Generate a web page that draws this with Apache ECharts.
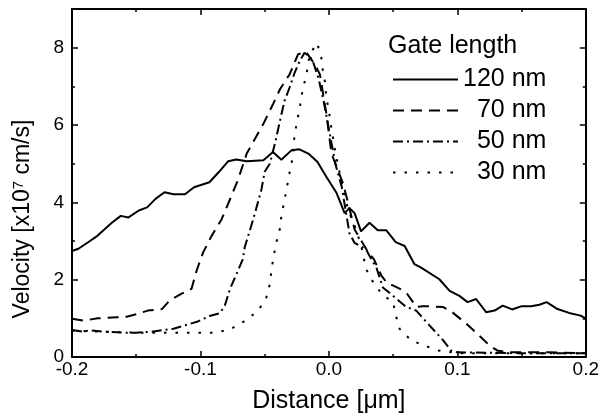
<!DOCTYPE html>
<html>
<head>
<meta charset="utf-8">
<title>Velocity vs distance</title>
<script src="https://cdn.jsdelivr.net/npm/echarts@6/dist/echarts.min.js"></script>
<style>
  html, body { margin: 0; padding: 0; background: #fff; }
  #main { width: 602px; height: 419px; }
</style>
</head>
<body>
<div id="main"></div>
<script>
    // 120 nm
    var dist120 = [-0.2, -0.195, -0.186, -0.18, -0.169, -0.162, -0.156, -0.148, -0.1415, -0.135, -0.128, -0.121, -0.112, -0.105, -0.093, -0.0855, -0.0785, -0.072, -0.064, -0.051, -0.0435, -0.037, -0.029, -0.023, -0.016, -0.009, -0.002, 0.006, 0.0096, 0.0122, 0.016, 0.02, 0.025, 0.0316, 0.038, 0.0446, 0.052, 0.059, 0.0666, 0.0718, 0.086, 0.094, 0.1016, 0.108, 0.1146, 0.1224, 0.129, 0.1353, 0.1426, 0.1496, 0.1574, 0.1638, 0.1695, 0.178, 0.187, 0.196, 0.2];
    var vel120 = [2.74, 2.8, 3.0, 3.14, 3.47, 3.65, 3.61, 3.79, 3.87, 4.09, 4.26, 4.21, 4.21, 4.39, 4.52, 4.79, 5.06, 5.11, 5.06, 5.09, 5.3, 5.1, 5.35, 5.37, 5.26, 5.05, 4.66, 4.24, 3.94, 3.72, 3.85, 3.72, 3.25, 3.47, 3.28, 3.28, 2.97, 2.87, 2.4, 2.31, 2.01, 1.71, 1.58, 1.42, 1.5, 1.16, 1.2, 1.33, 1.23, 1.31, 1.31, 1.35, 1.42, 1.24, 1.14, 1.07, 0.99];
    // 70 nm
    var dist70 = [-0.2, -0.191, -0.18, -0.165, -0.159, -0.1485, -0.141, -0.13, -0.124, -0.115, -0.107, -0.103, -0.098, -0.0915, -0.0837, -0.0772, -0.0708, -0.064, -0.051, -0.0435, -0.038, -0.0306, -0.024, -0.018, -0.011, -0.007, -0.002, 0.002, 0.006, 0.011, 0.015, 0.02, 0.03, 0.035, 0.041, 0.045, 0.055, 0.061, 0.068, 0.073, 0.08, 0.089, 0.096, 0.107, 0.115, 0.125, 0.131, 0.14, 0.17, 0.2];
    var vel70 = [0.99, 0.94, 1.0, 1.03, 1.03, 1.12, 1.2, 1.24, 1.46, 1.63, 1.76, 2.23, 2.7, 3.12, 3.55, 4.06, 4.58, 5.26, 6.03, 6.54, 6.93, 7.31, 7.83, 7.9, 7.57, 7.31, 6.3, 5.26, 4.92, 4.49, 3.98, 3.3, 2.74, 2.53, 2.1, 1.93, 1.77, 1.63, 1.3, 1.31, 1.31, 1.29, 1.16, 0.86, 0.62, 0.3, 0.17, 0.12, 0.12, 0.1];
    // 50 nm
    var dist50 = [-0.2, -0.192, -0.186, -0.173, -0.16, -0.15, -0.139, -0.13, -0.121, -0.112, -0.102, -0.093, -0.085, -0.081, -0.077, -0.072, -0.067, -0.0656, -0.059, -0.0565, -0.0526, -0.05, -0.046, -0.042, -0.038, -0.0345, -0.0306, -0.0267, -0.0228, -0.019, -0.013, -0.008, -0.004, 0, 0.005, 0.01, 0.016, 0.02, 0.029, 0.033, 0.037, 0.042, 0.05, 0.06, 0.068, 0.076, 0.089, 0.095, 0.1, 0.15, 0.2];
    var vel50 = [0.7, 0.66, 0.69, 0.65, 0.63, 0.63, 0.65, 0.69, 0.73, 0.82, 0.92, 1.06, 1.13, 1.33, 1.76, 2.14, 2.53, 2.83, 3.55, 3.85, 4.32, 4.79, 5.0, 5.52, 6.12, 6.63, 6.97, 7.35, 7.65, 7.87, 7.7, 7.2, 6.6, 5.9, 5.0, 4.4, 3.2, 2.95, 2.78, 2.53, 2.31, 1.8, 1.58, 1.3, 1.2, 0.9, 0.43, 0.17, 0.12, 0.1, 0.1];
    // 30 nm
    var dist30 = [-0.2, -0.15, -0.13, -0.1, -0.0876, -0.076, -0.066, -0.055, -0.0487, -0.046, -0.0448, -0.043, -0.041, -0.0383, -0.037, -0.035, -0.033, -0.031, -0.029, -0.0267, -0.025, -0.0228, -0.021, -0.019, -0.017, -0.015, -0.0093, -0.006, -0.0047, -0.003, -0.002, 0, 0.001, 0.005, 0.01, 0.015, 0.02, 0.025, 0.029, 0.035, 0.042, 0.05, 0.052, 0.055, 0.064, 0.074, 0.085, 0.094, 0.1, 0.2];
    var vel30 = [0.68, 0.63, 0.63, 0.63, 0.63, 0.73, 0.92, 1.2, 1.54, 1.88, 2.23, 2.61, 2.95, 3.3, 3.64, 3.98, 4.32, 4.71, 5.02, 5.73, 6.07, 6.41, 6.8, 7.1, 7.4, 7.82, 8.12, 7.78, 7.4, 7.1, 6.71, 6.37, 6.12, 5.3, 4.5, 3.8, 3.4, 2.9, 2.27, 1.9, 1.6, 1.42, 1.09, 0.73, 0.43, 0.3, 0.17, 0.13, 0.1, 0.1];

    var seriesNames = ['120 nm', '70 nm', '50 nm', '30 nm'];
    var allDist = [dist120, dist70, dist50, dist30];
    var allVel = [vel120, vel70, vel50, vel30];
    var dashTypes = ['solid', [11, 7], [10, 4, 2, 4], [2.5, 9]];

    var FONT = 'Liberation Sans, Arial, sans-serif';

    function pairs(xs, ys) {
        var out = [];
        for (var i = 0; i < xs.length; i++) out.push([xs[i], ys[i]]);
        return out;
    }

    var arrSeries = [];
    for (var k = 0; k < seriesNames.length; k++) {
        arrSeries.push({
            name: seriesNames[k],
            type: 'line',
            symbol: 'none',
            animation: false,
            lineStyle: { color: '#000', width: 2, type: dashTypes[k] },
            itemStyle: { color: '#000' },
            data: pairs(allDist[k], allVel[k])
        });
    }

    var axisCommon = {
        axisLine: { show: true, onZero: false, lineStyle: { color: '#000', width: 2 } },
        axisTick: { show: true, inside: true, length: 6, lineStyle: { color: '#000', width: 1.5 } },
        minorTick: { show: true, splitNumber: 2, length: 3, lineStyle: { color: '#000', width: 1.5 } },
        splitLine: { show: false }
    };

    var myChart = echarts.init(document.getElementById('main'));
    var _Option = {
        animation: false,
        backgroundColor: '#fff',
        title: {
            text: 'Gate length',
            left: 383, top: 29,
            textStyle: { fontFamily: FONT, fontSize: 25, fontWeight: 'normal', color: '#000' }
        },
        legend: {
            orient: 'vertical',
            left: 387, top: 62,
            itemWidth: 65, itemHeight: 14, itemGap: 6,
            data: seriesNames,
            itemStyle: { opacity: 0 },
            formatter: function (name) { return name === '120 nm' ? name : '  ' + name; },
            textStyle: { fontFamily: FONT, fontSize: 25, color: '#000' }
        },
        grid: { left: 72, right: 16, top: 9, bottom: 60.5 },
        xAxis: [
            Object.assign({}, axisCommon, {
                type: 'value', position: 'bottom',
                min: -0.2, max: 0.2, interval: 0.1,
                name: 'Distance [\u03bcm]', nameLocation: 'middle', nameGap: 32,
                nameTextStyle: { fontFamily: FONT, fontSize: 25, color: '#000' },
                axisLabel: {
                    margin: 3, color: '#000', fontFamily: FONT, fontSize: 19,
                    formatter: function (v) { return v.toFixed(1); }
                }
            }),
            Object.assign({}, axisCommon, {
                type: 'value', position: 'top',
                min: -0.2, max: 0.2, interval: 0.1,
                axisLabel: { show: false }
            })
        ],
        yAxis: [
            Object.assign({}, axisCommon, {
                type: 'value', position: 'left',
                min: 0, max: 9, interval: 2,
                name: 'Velocity [x10{sup|7} cm/s]', nameLocation: 'middle', nameGap: 38,
                nameTextStyle: {
                    fontFamily: FONT, fontSize: 23, color: '#000',
                    padding: [0, 72, 0, 0],
                    rich: { sup: { fontFamily: FONT, fontSize: 15, color: '#000', verticalAlign: 'top', lineHeight: 22 } }
                },
                axisLabel: {
                    margin: 8, color: '#000', fontFamily: FONT, fontSize: 19,
                    formatter: function (v) { return v === 9 ? '' : String(v); }
                }
            }),
            Object.assign({}, axisCommon, {
                type: 'value', position: 'right',
                min: 0, max: 9, interval: 2,
                axisLabel: { show: false }
            })
        ],
        series: arrSeries
    };
    myChart.setOption(_Option);
</script>
</body>
</html>
